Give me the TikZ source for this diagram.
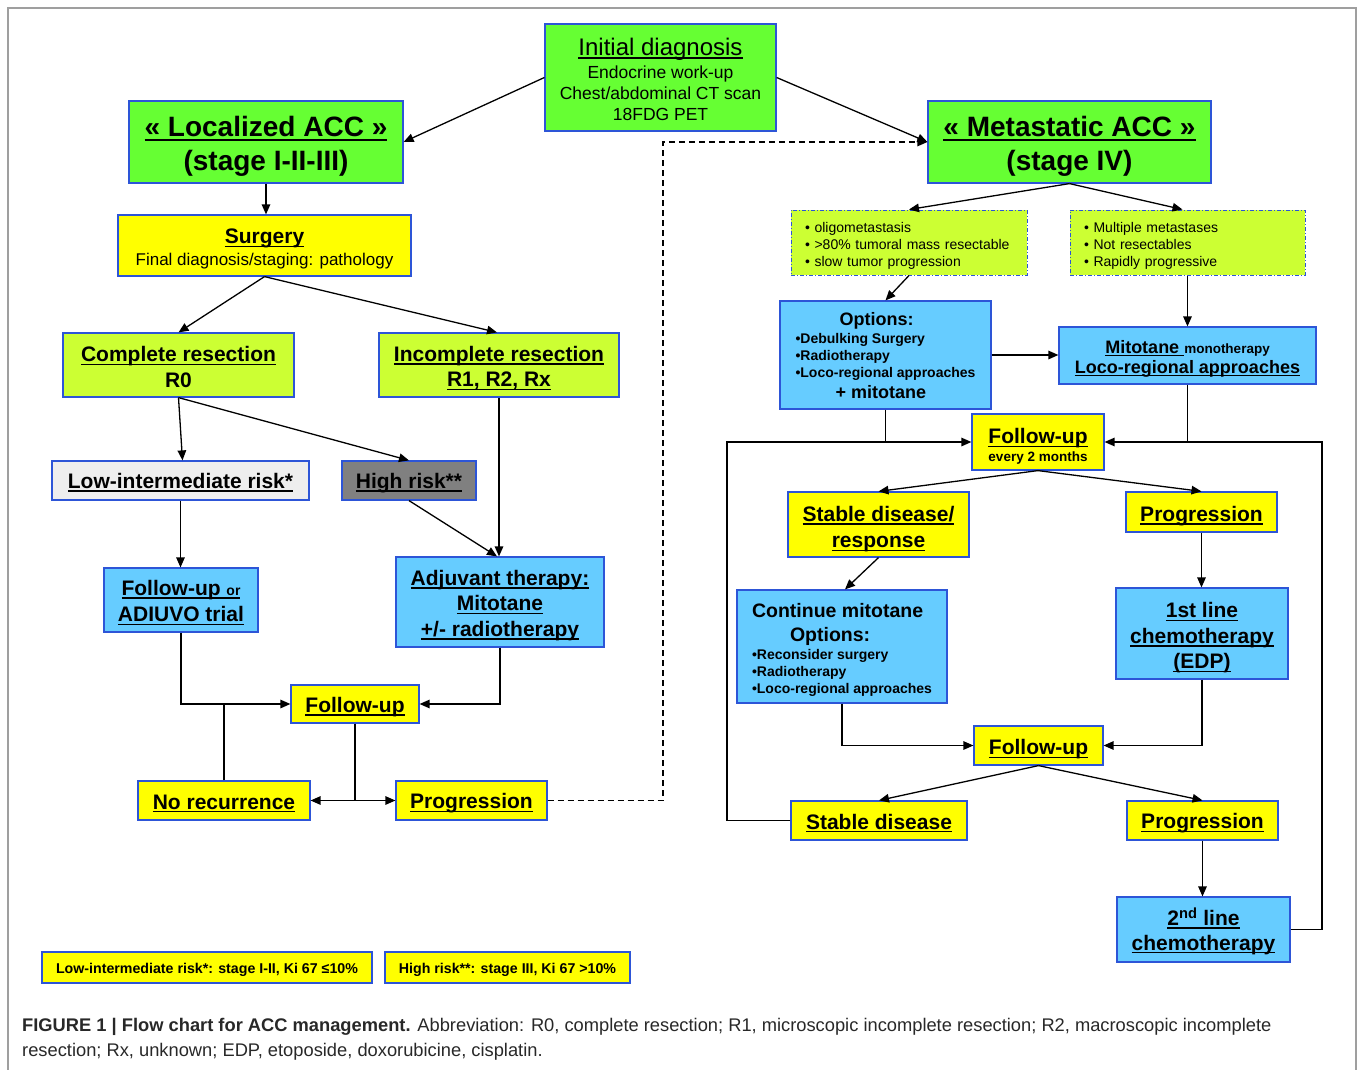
\documentclass[tikz,border=0pt]{standalone}
\usepackage{fontspec}
\setmainfont{Liberation Sans}
\usetikzlibrary{arrows.meta,calc}
\definecolor{cgreen}{RGB}{102,255,51}
\definecolor{clime}{RGB}{204,255,51}
\definecolor{cyellow}{RGB}{255,255,0}
\definecolor{cblue}{RGB}{102,204,255}
\definecolor{clow}{RGB}{238,238,238}
\definecolor{chigh}{RGB}{128,128,128}
\definecolor{bord}{RGB}{45,85,215}
\definecolor{capt}{RGB}{40,40,40}
\newcommand\fs[2]{\fontsize{#1}{#2}\selectfont}
\newcommand\myul[1]{\setbox0=\hbox{#1}\rlap{\rule[-0.16em]{\wd0}{0.075em}}\box0}
\newcommand\st[1]{\rule{0pt}{#1}}
\tikzset{
  box/.style={draw=bord, line width=1.2pt, inner sep=2pt, align=center, text=black},
  grn/.style={box, fill=cgreen},
  lim/.style={box, fill=clime},
  yel/.style={box, fill=cyellow},
  blu/.style={box, fill=cblue},
  big/.style={font=\fs{28}{34}\bfseries},
  mid/.style={font=\fs{21}{25.5}\bfseries},
  dd/.style={box, fill=clime, line width=1pt, dash pattern=on 4pt off 2pt on 1pt off 2pt,
    align=left, inner xsep=14pt, font=\fs{14}{17}},
  arr/.style={-{Triangle[length=10pt,width=8.5pt]}, line width=1.3pt},
  ln/.style={line width=1.3pt}
}
\begin{document}
\begin{tikzpicture}[x=1pt,y=-1pt]
\useasboundingbox (0,0) rectangle (1358,1070);
\draw[gray!75, line width=1.2pt] (8,1080) -- (8,8) -- (1356,8) -- (1356,1080);

% left column
\node[grn, minimum width=231, minimum height=107, font=\fs{17.5}{21}] (init) at (660.5,77.5)
  {{\fs{24}{26}\st{21pt}\myul{Initial diagnosis}}\\[2pt]Endocrine work-up\\Chest/abdominal CT scan\\18FDG PET};
\node[grn, big, minimum width=274, minimum height=82] (loc) at (266,142)
  {\st{29.5pt}\myul{« Localized ACC »}\\(stage I-II-III)};
\node[grn, big, minimum width=283, minimum height=82] (met) at (1069.5,142)
  {\st{29.5pt}\myul{« Metastatic ACC »}\\(stage IV)};
\node[yel, minimum width=293, minimum height=61, font=\fs{17}{22}] (surg) at (264.5,245.5)
  {{\fs{21}{24}\bfseries\st{22.3pt}\myul{Surgery}}\\Final diagnosis/staging: pathology};
\node[lim, mid, minimum width=231, minimum height=64] (comp) at (178.5,365)
  {\st{19.3pt}\myul{Complete resection}\\R0};
\node[lim, mid, minimum width=240, minimum height=64] (incomp) at (499,365)
  {\st{21.3pt}\myul{Incomplete resection}\\\myul{R1, R2, Rx}};
\node[box, fill=clow, mid, minimum width=257, minimum height=39] (low) at (180.5,480.5)
  {\st{19.3pt}\myul{Low-intermediate risk*}};
\node[box, fill=chigh, mid, minimum width=134, minimum height=39] (high) at (409,480.5)
  {\st{20pt}\myul{High risk**}};
\node[blu, mid, minimum width=154, minimum height=64] (fu1) at (181,600)
  {\st{20.3pt}\myul{Follow-up {\fs{14}{16}or}}\\[1pt]\myul{ADIUVO trial}};
\node[blu, mid, minimum width=208, minimum height=90] (adj) at (500,602)
  {\st{22.3pt}\myul{Adjuvant therapy:}\\\myul{Mitotane}\\\myul{+/- radiotherapy}};
\node[yel, mid, minimum width=128, minimum height=38] (fu2) at (355,704)
  {\st{21.3pt}\myul{Follow-up}};
\node[yel, mid, minimum width=172, minimum height=39] (norec) at (224,800.5)
  {\st{20.5pt}\myul{No recurrence}};
\node[yel, mid, minimum width=151, minimum height=39] (prog1) at (471.5,800.5)
  {\st{21.3pt}\myul{Progression}};

% right column
\node[dd, text width=208pt, minimum width=236, minimum height=65] (oligo) at (909,242.5)
  {\st{16.2pt}• oligometastasis\\• >80\% tumoral mass resectable\\• slow tumor progression};
\node[dd, text width=207pt, minimum width=235, minimum height=65] (mult) at (1187.5,242.5)
  {\st{16.2pt}• Multiple metastases\\• Not resectables\\• Rapidly progressive};
\node[blu, minimum width=211, minimum height=108, align=left, font=\fs{14}{17}\bfseries] (opt) at (885.5,355)
  {\hspace*{44pt}{\fs{18}{20}\st{15.1pt}Options:}\\[0.4pt]•Debulking Surgery\\•Radiotherapy\\•Loco-regional approaches\\[4.6pt]\hspace*{40pt}{\fs{18}{21}+ mitotane}};
\node[blu, minimum width=257, minimum height=57, font=\fs{18}{20}\bfseries] (mito) at (1187.5,355.5)
  {\st{19.1pt}\myul{Mitotane }{\fs{13.5}{16}monotherapy}\\\myul{Loco-regional approaches}};
\node[yel, minimum width=132, minimum height=56, font=\fs{21}{18}\bfseries] (fu3) at (1038,442)
  {\st{24.3pt}\myul{Follow-up}\\{\fs{13.5}{16}every 2 months}};
\node[yel, mid, minimum width=181, minimum height=65] (stab1) at (878.5,524.5)
  {\st{24.3pt}\myul{Stable disease/}\\[1pt]\myul{response}};
\node[yel, mid, minimum width=151, minimum height=40] (prog2) at (1201.5,512)
  {\st{23.3pt}\myul{Progression}};
\node[blu, minimum width=210, minimum height=113, align=left, font=\fs{14}{17}\bfseries] (cont) at (842,646.5)
  {{\fs{19.5}{22}\st{20.2pt}Continue mitotane}\\[7pt]\hspace*{38pt}{\fs{19.5}{22}Options:}\\[1pt]•Reconsider surgery\\•Radiotherapy\\•Loco-regional approaches};
\node[blu, mid, minimum width=172, minimum height=91] (chem1) at (1202,633.5)
  {\st{24.3pt}\myul{1st line}\\\myul{chemotherapy}\\\myul{(EDP)}};
\node[yel, mid, minimum width=129, minimum height=39] (fu4) at (1038.5,745.5)
  {\st{23.3pt}\myul{Follow-up}};
\node[yel, mid, minimum width=176, minimum height=39] (stab2) at (879,820.5)
  {\st{20.5pt}\myul{Stable disease}};
\node[yel, mid, minimum width=151, minimum height=39] (prog3) at (1202.5,820.5)
  {\st{21.3pt}\myul{Progression}};
\node[blu, mid, minimum width=173, minimum height=65] (chem2) at (1203.5,929.5)
  {\st{21pt}\myul{2\textsuperscript{nd} line}\\[-1pt]\myul{chemotherapy}};

% legend
\node[yel, minimum width=330, minimum height=31, font=\fs{14.2}{16}\bfseries] (leg1) at (207,967.5)
  {\st{15.4pt}Low-intermediate risk*: stage I-II, Ki 67 ≤10\%};
\node[yel, minimum width=245, minimum height=31, font=\fs{14.2}{16}\bfseries] (leg2) at (507.5,967.5)
  {\st{15.4pt}High risk**: stage III, Ki 67 >10\%};

% caption
\node[anchor=north west, align=left, inner sep=0pt, text=capt, font=\fs{18.3}{25}] (cap) at (22,1018.5)
  {\textbf{FIGURE 1 | Flow chart for ACC management.} Abbreviation: R0, complete resection; R1, microscopic incomplete resection; R2, macroscopic incomplete\\resection; Rx, unknown; EDP, etoposide, doxorubicine, cisplatin.};

% connectors left
\draw[arr] (init.west) -- (loc.east);
\draw[arr] (init.east) -- (met.west);
\draw[arr] (loc.south) -- (loc.south |- surg.north);
\draw[arr] (surg.south) -- (comp.north);
\draw[arr] (surg.south) -- ([xshift=-2pt]incomp.north);
\draw[arr] (comp.south) -- ([xshift=2pt]low.north);
\draw[arr] (comp.south) -- (high.north);
\draw[arr] (incomp.south) -- (incomp.south |- adj.north);
\draw[arr] (high.south) -- ([xshift=-3pt]adj.north);
\draw[arr] (low.south) -- (low.south |- fu1.north);
\draw[arr] (fu1.south) |- (fu2.west);
\draw[arr] (adj.south) |- (fu2.east);
\draw[ln] (norec.north) -- (norec.north |- fu2.west);
\draw[arr] (fu2.south) |- (norec.east);
\draw[arr] (fu2.south) |- (prog1.west);
\coordinate (dk) at (663,142);
\draw[arr, dash pattern=on 6pt off 4pt] (prog1.east) -| (dk) -- (met.west);

% connectors right
\draw[arr] (met.south) -- (oligo.north);
\draw[arr] (met.south) -- ([xshift=-5pt]mult.north);
\draw[arr] (oligo.south) -- (opt.north);
\draw[arr] (mult.south) -- (mult.south |- mito.north);
\draw[arr] (opt.east) -- (opt.east -| mito.west);
\draw[ln] (opt.south) -- (opt.south |- fu3.west);
\draw[ln] (mito.south) -- (mito.south |- fu3.east);
\coordinate (lk) at (727,442);
\coordinate (rk) at (1322,442);
\draw[arr] (stab2.west) -| (lk) -- (fu3.west);
\draw[arr] (chem2.east) -| (rk) -- (fu3.east);
\draw[arr] (fu3.south) -- (stab1.north);
\draw[arr] (fu3.south) -- (prog2.north);
\draw[arr] (stab1.south) -- ([xshift=3pt]cont.north);
\draw[arr] (prog2.south) -- (prog2.south |- chem1.north);
\draw[arr] (cont.south) |- (fu4.west);
\draw[arr] (chem1.south) |- (fu4.east);
\draw[arr] (fu4.south) -- (stab2.north);
\draw[arr] (fu4.south) -- (prog3.north);
\draw[arr] (prog3.south) -- (prog3.south |- chem2.north);
\end{tikzpicture}
\end{document}
